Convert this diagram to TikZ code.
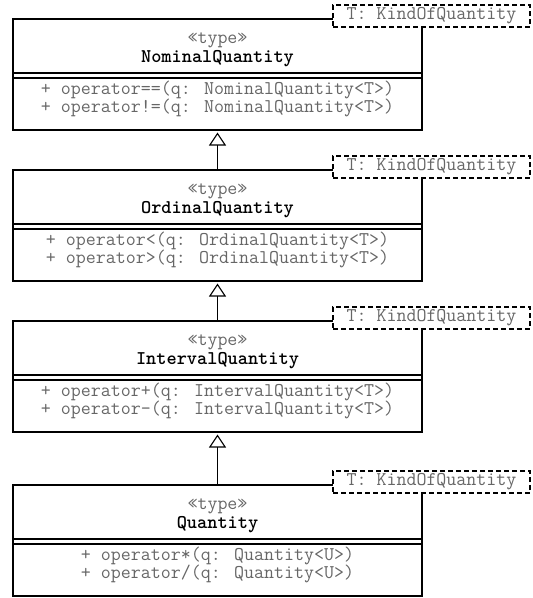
\documentclass[tikz,border=0pt]{standalone}
\usetikzlibrary{arrows.meta}

\begin{document}
\begin{tikzpicture}[x=1pt,y=-1pt,line width=1.1pt,
  cls/.style={rectangle,draw,minimum width=409pt,minimum height=111pt,inner sep=0pt},
  tmpl/.style={rectangle,draw,dash pattern=on 5pt off 3pt,fill=white,
    minimum width=197pt,minimum height=22pt,inner sep=0pt,text=black!60,
    font=\ttfamily\fontsize{19.4}{14}\selectfont},
  stereo/.style={inner sep=0pt,text=black!60,font=\ttfamily\fontsize{19.4}{14}\selectfont},
  cname/.style={inner sep=0pt,font=\ttfamily\bfseries\fontsize{19.4}{14}\selectfont},
  ops/.style={inner sep=0pt,align=center,text=black!60,
    font=\ttfamily\fontsize{19.4}{14.5}\selectfont},
  inherit/.style={-{Triangle[open,length=13pt,width=17pt]},shorten >=2pt}]
\useasboundingbox (0,0) rectangle (533,598);
% classes
\node (nom) [cls] at (217.5,74.5) {};
\node (ord) [cls] at (217.5,225.5) {};
\node (int) [cls] at (217.5,376.5) {};
\node (qty) [cls] at (217.5,540.5) {};
% compartments
\draw (13,73) -- (422,73) (13,78) -- (422,78);
\draw (13,224) -- (422,224) (13,229) -- (422,229);
\draw (13,375) -- (422,375) (13,380) -- (422,380);
\draw (13,539) -- (422,539) (13,544) -- (422,544);
% texts
\node (nomst) [stereo] at (217.5,40.5) {«type»};
\node (nomnm) [cname] at (217.5,59) {NominalQuantity};
\node (nomop) [ops] at (217.5,99) {+ operator==(q: NominalQuantity<T>)\\+ operator!=(q: NominalQuantity<T>)};
\node (ordst) [stereo] at (217.5,191.5) {«type»};
\node (ordnm) [cname] at (217.5,210) {OrdinalQuantity};
\node (ordop) [ops] at (217.5,250) {+ operator<(q: OrdinalQuantity<T>)\\+ operator>(q: OrdinalQuantity<T>)};
\node (intst) [stereo] at (217.5,342.5) {«type»};
\node (intnm) [cname] at (217.5,361) {IntervalQuantity};
\node (intop) [ops] at (217.5,401) {+ operator+(q: IntervalQuantity<T>)\\+ operator-(q: IntervalQuantity<T>)};
\node (qtyst) [stereo] at (217.5,506.5) {«type»};
\node (qtynm) [cname] at (217.5,525) {Quantity};
\node (qtyop) [ops] at (217.5,565) {+ operator*(q: Quantity<U>)\\+ operator/(q: Quantity<U>)};
% template parameters
\node (nomtp) [tmpl] at (431.5,16) {T: KindOfQuantity};
\node (ordtp) [tmpl] at (431.5,167) {T: KindOfQuantity};
\node (inttp) [tmpl] at (431.5,318) {T: KindOfQuantity};
\node (qtytp) [tmpl] at (431.5,482) {T: KindOfQuantity};
% generalisations
\draw[inherit] (ord.north) -- (nom.south);
\draw[inherit] (int.north) -- (ord.south);
\draw[inherit] (qty.north) -- (int.south);
\end{tikzpicture}
\end{document}
